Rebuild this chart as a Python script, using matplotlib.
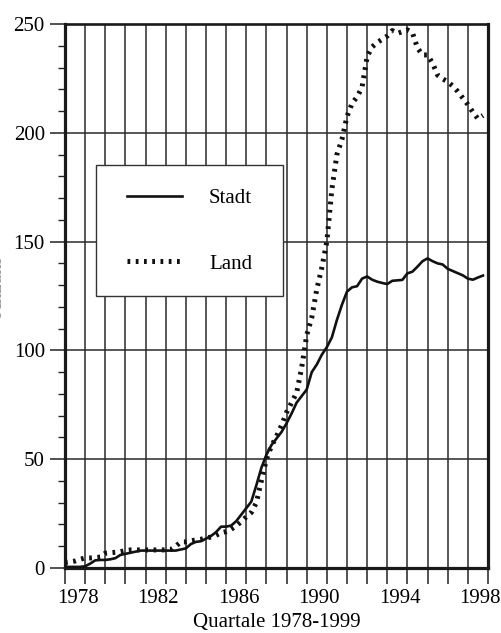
import numpy as np
import matplotlib
matplotlib.use('Agg')
import matplotlib.pyplot as plt
from matplotlib.patches import Rectangle
from matplotlib.ticker import MultipleLocator

plt.rcParams['font.family'] = ['Liberation Serif', 'DejaVu Serif']

# Quartalswerte, Index 0 = 1978 Q1
stadt = [0.5, 0.5, 0.5, 0.5, 0.8, 2, 3.5, 3.7, 3.7, 4, 4.5, 6,
         6.5, 7, 7.5, 8, 8, 8, 8, 8, 8, 8, 8, 8.5,
         9, 11, 12, 12.3, 13.5, 14.7, 16.5, 19, 19, 19.5, 21.5, 24.5,
         27.5, 30.5, 38, 46, 52, 56.5, 59.5, 62.5, 66.5, 71, 76, 79,
         82, 90, 93.5, 98, 101.5, 106, 114, 121, 127, 129, 129.5, 133,
         134, 132.5, 131.6, 131, 130.5, 132, 132.2, 132.4, 135.4, 136.2, 138.5, 141,
         142.3, 141, 140, 139.5, 137.5, 136.5, 135.5, 134.5, 133, 132.5, 133.5, 134.4]

land = [2.5, 2.8, 3.2, 4, 4.6, 4.6, 4.8, 5, 6.8, 7, 7.2, 7.5,
        8, 8.3, 8.3, 8.3, 8.3, 8.3, 8.3, 8.3, 8.3, 8.5, 10, 12,
        12, 12.5, 12.9, 13.2, 13.8, 14.2, 15, 16.2, 16.7, 17.8, 19.3, 21.3,
        23.5, 25.5, 30, 40, 50, 56, 60.5, 65.5, 71.5, 76, 80.5, 92,
        107, 115, 128, 138, 150, 174, 190, 197, 207.5, 213.5, 216.5, 221,
        235, 239.5, 241.5, 243, 244.5, 247, 245.7, 246.5, 247.3, 246, 239, 235.8,
        235.8, 232, 226.5, 224.8, 223.5, 221.5, 219, 216, 213, 209.5, 206.5, 208]

label_years = [1978, 1982, 1986, 1990, 1994, 1998]

fig = plt.figure(figsize=(5.01, 6.33), dpi=100)
ax = fig.add_axes([0.1297, 0.1027, 0.8443, 0.8593])

ax.plot(np.arange(len(stadt)), stadt, color='#111111', lw=1.9,
        solid_joinstyle='round', label='Stadt', zorder=3)
ax.plot(np.arange(len(land)), land, color='#111111', lw=3.6,
        linestyle=(0, (0.55, 1.1)), dash_capstyle='butt', label='Land', zorder=3)

ax.set_xlim(0, 84)
ax.set_ylim(0, 250)

# Jahresraster (4 Quartale), Beschriftung jeweils Jahresmitte
ax.set_xticks(np.arange(0, 85, 4))
ax.set_xticks([(y - 1978) * 4 + 2.5 for y in label_years],
              labels=[str(y) for y in label_years], minor=True)
ax.tick_params(axis='x', which='major', direction='out', length=11.5,
               width=1.1, color='#222222', labelbottom=False)
ax.tick_params(axis='x', which='minor', length=0, pad=15, labelsize=15)

ax.set_yticks(range(0, 251, 50))
ax.yaxis.set_minor_locator(MultipleLocator(10))
ax.tick_params(axis='y', which='major', direction='out', length=11,
               width=1.1, color='#222222', pad=3.5, labelsize=15)
ax.tick_params(axis='y', which='minor', direction='out', length=5,
               width=1.0, color='#222222')

ax.set_axisbelow(True)
ax.grid(axis='x', which='major', color='#2a2a2a', lw=1.1)
ax.grid(axis='y', which='major', color='#2a2a2a', lw=1.1)

for side in ['left', 'right', 'bottom']:
    ax.spines[side].set_linewidth(2.3)
    ax.spines[side].set_color('#1a1a1a')
ax.spines['top'].set_linewidth(1.9)
ax.spines['top'].set_color('#1a1a1a')

# Legendenkasten
ax.add_patch(Rectangle((0.0733, 0.5), 0.4414, 0.2408, transform=ax.transAxes,
                       facecolor='white', edgecolor='#333333', lw=1.0, zorder=2))
leg = ax.legend(loc='center left', bbox_to_anchor=(0.146, 0.6195),
                fontsize=15, frameon=False, borderpad=0, borderaxespad=0,
                handlelength=2.65, handletextpad=1.3, labelspacing=2.2)
leg.set_zorder(4)

ax.set_xlabel('Quartale 1978-1999', fontsize=15, labelpad=4)
fig.text(0.014, 0.547, 'Anzahl', rotation=90, ha='right', va='center', fontsize=15,
         color='#999999')

fig.savefig('out.png', dpi=100)
